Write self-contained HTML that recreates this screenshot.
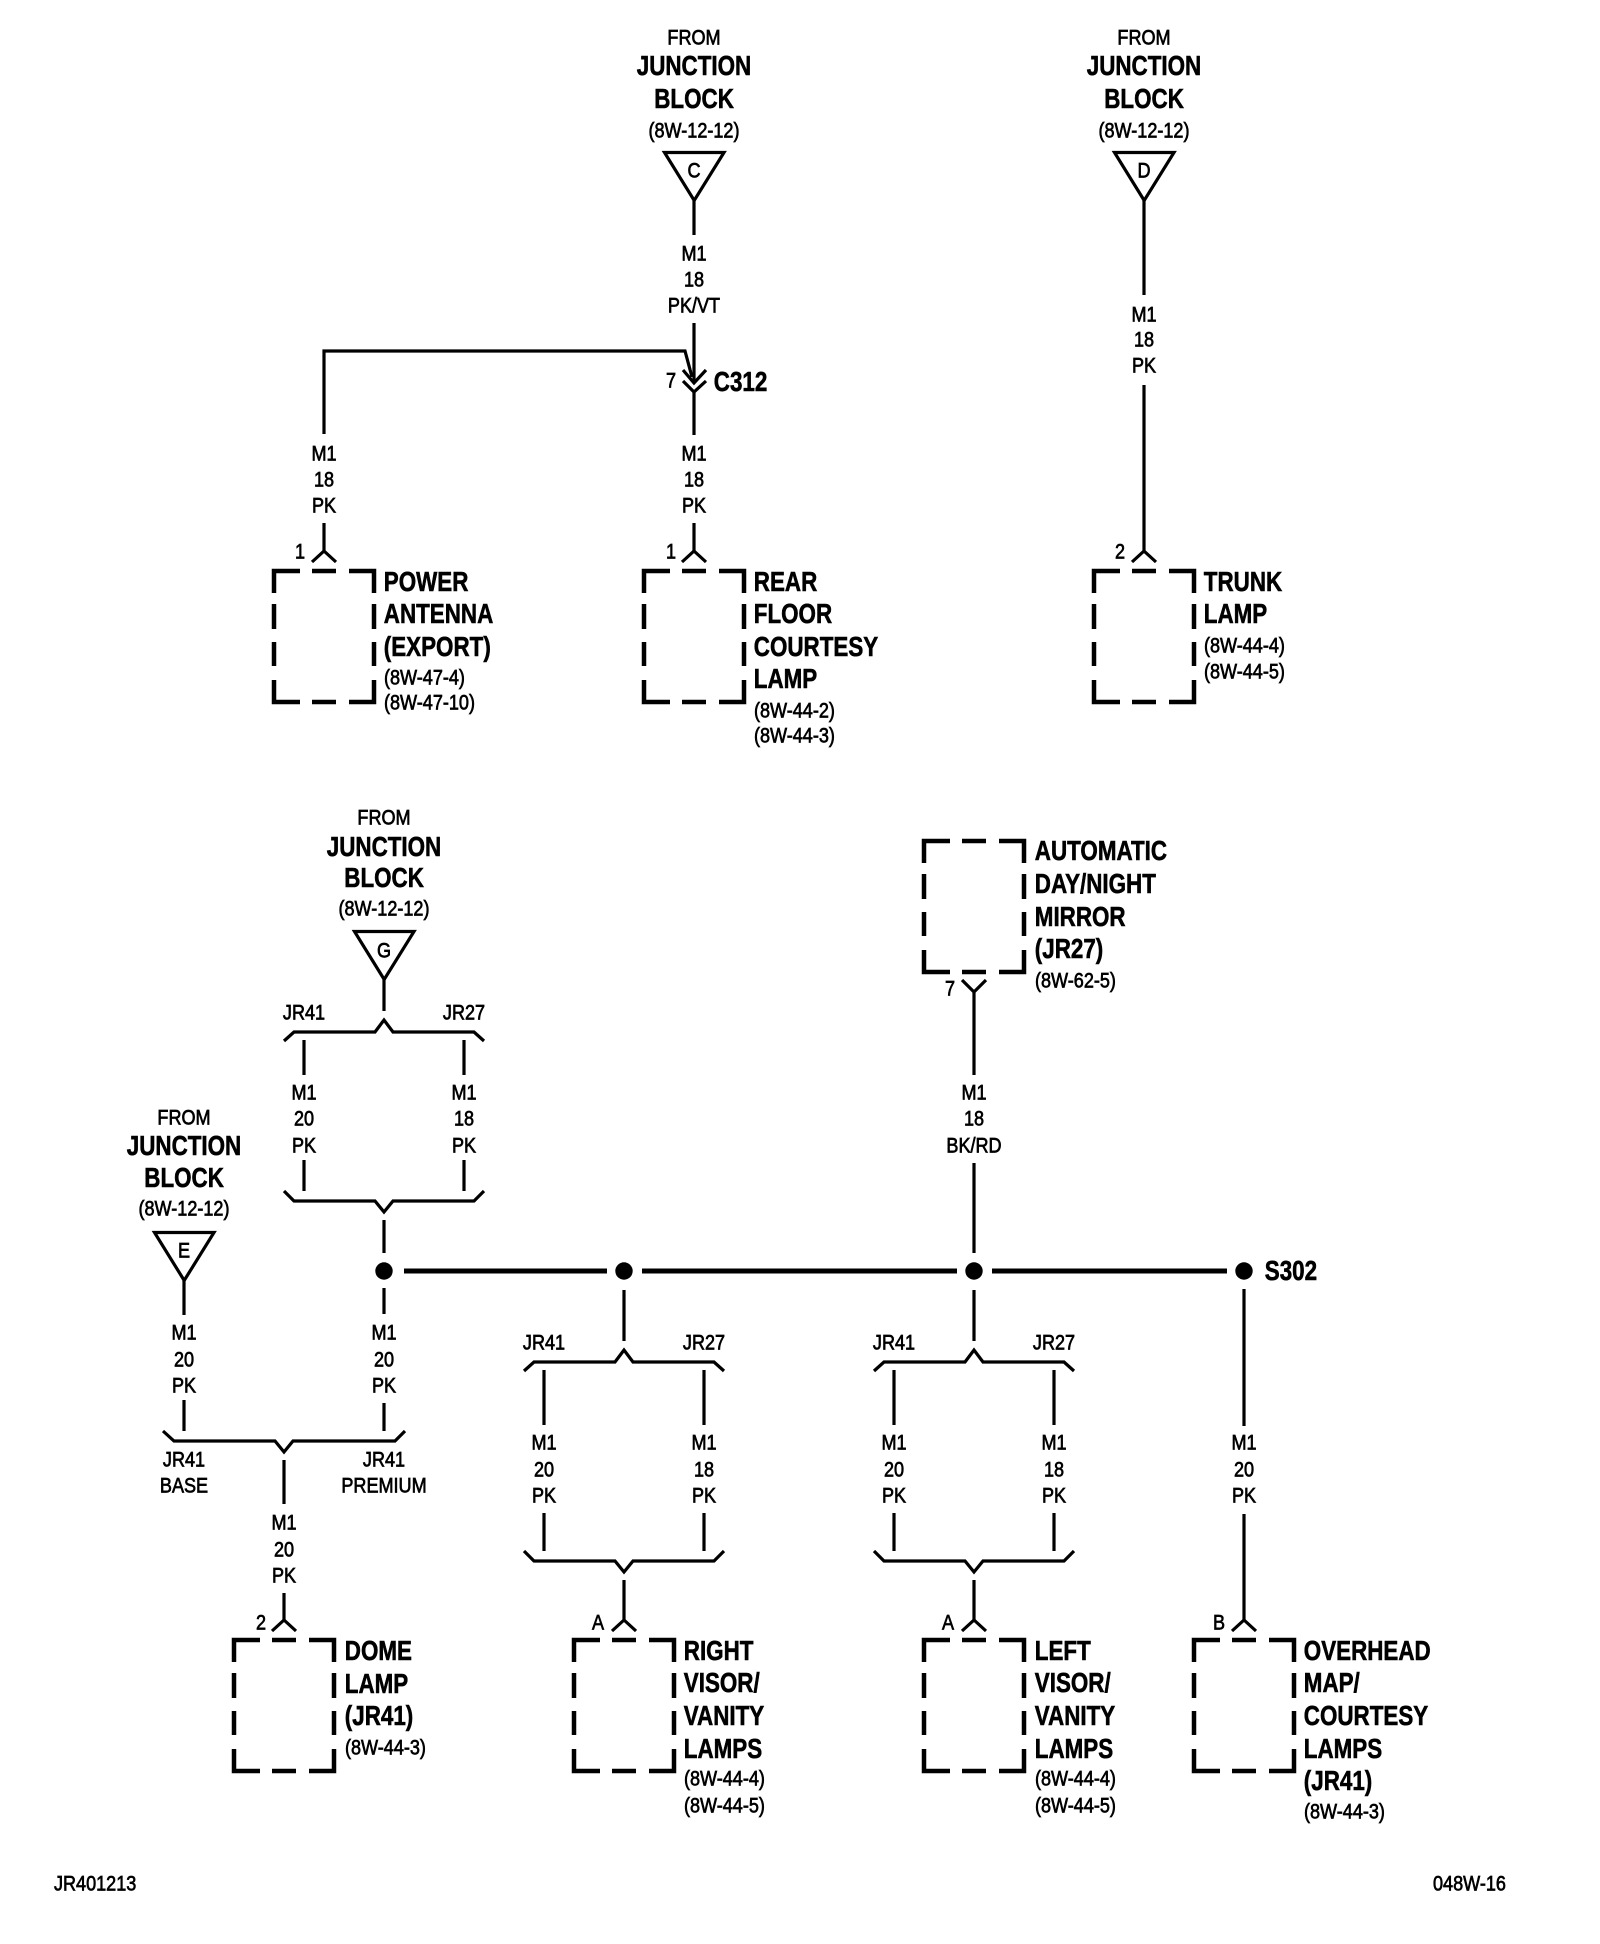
<!DOCTYPE html>
<html><head><meta charset="utf-8"><style>
html,body{margin:0;padding:0;background:#fff}
svg{display:block}
text{font-family:"Liberation Sans",Arial,sans-serif;fill:#000;stroke:#000;dominant-baseline:central;text-anchor:middle;transform-box:fill-box;transform-origin:center center;font-size:21px;stroke-width:.7;transform:translateY(1px) scaleX(.86)}
text.b{font-weight:bold;font-size:28px;stroke-width:.6;transform:scaleX(.8)}
text.l{text-anchor:start;transform-origin:left center;transform:translate(-1px,1px) scaleX(.86)}
text.b.l{transform:translateX(-1.2px) scaleX(.8)}
.w{fill:none;stroke:#000;stroke-width:3.2}
.bx{fill:none;stroke:#000;stroke-width:4.5}
.bus{fill:none;stroke:#000;stroke-width:5}
</style></head><body>
<svg width="1600" height="1944" viewBox="0 0 1600 1944" xmlns="http://www.w3.org/2000/svg">
<rect width="1600" height="1944" fill="#fff"/>
<defs>
<path id="box" class="bx" d="M-50 22V0H-24M-12 0H12M25 0H50V22M-50 33V58M50 33V58M-50 71V95M50 71V95M-50 109V131H-24M-12 131H12M25 131H50V109"/>
<path id="tri" class="w" d="M-29.5 1.5H30L0.2 49.5Z"/>
<path id="bt" class="w" d="M-100 21L-90 12H-9L0 0L9 12H90L100 21"/>
<path id="bb" class="w" d="M-100 0L-90 10H-9L0 21L9 10H90L100 0"/>
<path id="ar" class="w" d="M-12 11L0 0L12 11"/>
</defs>

<!-- C group -->
<text x="694" y="37">FROM</text>
<text class="b" x="694" y="66">JUNCTION</text>
<text class="b" x="694" y="99">BLOCK</text>
<text x="694" y="130">(8W-12-12)</text>
<use href="#tri" x="694" y="151"/>
<text x="694" y="170">C</text>
<path class="w" d="M694 198V235M694 323V383"/>
<text x="694" y="253">M1</text><text x="694" y="279">18</text><text x="694" y="305">PK/VT</text>
<path class="w" d="M324 434V351H685L692 377"/>
<path class="w" d="M683 370L694 383L706 370M683 381L694 392L706 381M694 392V435"/>
<text x="671" y="380">7</text>
<text class="b l" x="715" y="382">C312</text>

<!-- Power antenna -->
<text x="324" y="453">M1</text><text x="324" y="479">18</text><text x="324" y="505">PK</text>
<path class="w" d="M324 523V551"/><use href="#ar" x="324" y="551"/>
<text x="300" y="551">1</text>
<use href="#box" x="324" y="571"/>
<text class="b l" x="385" y="582">POWER</text>
<text class="b l" x="385" y="614">ANTENNA</text>
<text class="b l" x="385" y="647">(EXPORT)</text>
<text class="l" x="385" y="677">(8W-47-4)</text>
<text class="l" x="385" y="702">(8W-47-10)</text>

<!-- Rear floor -->
<text x="694" y="453">M1</text><text x="694" y="479">18</text><text x="694" y="505">PK</text>
<path class="w" d="M694 523V551"/><use href="#ar" x="694" y="551"/>
<text x="671" y="551">1</text>
<use href="#box" x="694" y="571"/>
<text class="b l" x="755" y="582">REAR</text>
<text class="b l" x="755" y="614">FLOOR</text>
<text class="b l" x="755" y="647">COURTESY</text>
<text class="b l" x="755" y="679">LAMP</text>
<text class="l" x="755" y="710">(8W-44-2)</text>
<text class="l" x="755" y="735">(8W-44-3)</text>

<!-- D group -->
<text x="1144" y="37">FROM</text>
<text class="b" x="1144" y="66">JUNCTION</text>
<text class="b" x="1144" y="99">BLOCK</text>
<text x="1144" y="130">(8W-12-12)</text>
<use href="#tri" x="1144" y="151"/>
<text x="1144" y="170">D</text>
<path class="w" d="M1144 198V295M1144 385V551"/>
<text x="1144" y="314">M1</text><text x="1144" y="339">18</text><text x="1144" y="365">PK</text>
<use href="#ar" x="1144" y="551"/>
<text x="1120" y="551">2</text>
<use href="#box" x="1144" y="571"/>
<text class="b l" x="1205" y="582">TRUNK</text>
<text class="b l" x="1205" y="614">LAMP</text>
<text class="l" x="1205" y="645">(8W-44-4)</text>
<text class="l" x="1205" y="671">(8W-44-5)</text>

<!-- G group -->
<text x="384" y="817">FROM</text>
<text class="b" x="384" y="847">JUNCTION</text>
<text class="b" x="384" y="878">BLOCK</text>
<text x="384" y="908">(8W-12-12)</text>
<use href="#tri" x="384" y="930"/>
<text x="384" y="950">G</text>
<path class="w" d="M384 977V1011"/>
<text x="304" y="1012">JR41</text><text x="464" y="1012">JR27</text>
<use href="#bt" x="384" y="1020"/>
<path class="w" d="M304 1040V1075M464 1040V1075M304 1160V1191M464 1160V1191"/>
<text x="304" y="1092">M1</text><text x="304" y="1118">20</text><text x="304" y="1145">PK</text>
<text x="464" y="1092">M1</text><text x="464" y="1118">18</text><text x="464" y="1145">PK</text>
<use href="#bb" x="384" y="1191"/>
<path class="w" d="M384 1220V1253M384 1288V1314"/>

<!-- bus -->
<path class="bus" d="M404 1271H607M642 1271H957M992 1271H1227"/>
<circle cx="384" cy="1271" r="8.7"/><circle cx="624" cy="1271" r="8.7"/><circle cx="974" cy="1271" r="8.7"/><circle cx="1244" cy="1271" r="8.7"/>
<text class="b l" x="1266" y="1271">S302</text>

<!-- E group -->
<text x="184" y="1117">FROM</text>
<text class="b" x="184" y="1146">JUNCTION</text>
<text class="b" x="184" y="1178">BLOCK</text>
<text x="184" y="1208">(8W-12-12)</text>
<use href="#tri" x="184" y="1231"/>
<text x="184" y="1250">E</text>
<path class="w" d="M184 1278V1315M184 1400V1431M384 1403V1431"/>
<text x="184" y="1332">M1</text><text x="184" y="1359">20</text><text x="184" y="1385">PK</text>
<text x="384" y="1332">M1</text><text x="384" y="1359">20</text><text x="384" y="1385">PK</text>
<path class="w" d="M163 1431L174 1441H275L284 1452L293 1441H395L405 1431"/>
<text x="184" y="1459">JR41</text><text x="184" y="1485">BASE</text>
<text x="384" y="1459">JR41</text><text x="384" y="1485">PREMIUM</text>
<path class="w" d="M284 1460V1504M284 1593V1620"/>
<text x="284" y="1522">M1</text><text x="284" y="1549">20</text><text x="284" y="1575">PK</text>
<use href="#ar" x="284" y="1620"/>
<text x="261" y="1622">2</text>
<use href="#box" x="284" y="1640"/>
<text class="b l" x="346" y="1651">DOME</text>
<text class="b l" x="346" y="1684">LAMP</text>
<text class="b l" x="346" y="1716">(JR41)</text>
<text class="l" x="346" y="1747">(8W-44-3)</text>

<!-- Right visor -->
<path class="w" d="M624 1290V1341"/>
<text x="544" y="1342">JR41</text><text x="704" y="1342">JR27</text>
<use href="#bt" x="624" y="1350"/>
<path class="w" d="M544 1370V1425M704 1370V1425M544 1513V1551M704 1513V1551"/>
<text x="544" y="1442">M1</text><text x="544" y="1469">20</text><text x="544" y="1495">PK</text>
<text x="704" y="1442">M1</text><text x="704" y="1469">18</text><text x="704" y="1495">PK</text>
<use href="#bb" x="624" y="1551"/>
<path class="w" d="M624 1580V1620"/><use href="#ar" x="624" y="1620"/>
<text x="598" y="1622">A</text>
<use href="#box" x="624" y="1640"/>
<text class="b l" x="685" y="1651">RIGHT</text>
<text class="b l" x="685" y="1683">VISOR/</text>
<text class="b l" x="685" y="1716">VANITY</text>
<text class="b l" x="685" y="1749">LAMPS</text>
<text class="l" x="685" y="1778">(8W-44-4)</text>
<text class="l" x="685" y="1805">(8W-44-5)</text>

<!-- Left visor -->
<path class="w" d="M974 1290V1341"/>
<text x="894" y="1342">JR41</text><text x="1054" y="1342">JR27</text>
<use href="#bt" x="974" y="1350"/>
<path class="w" d="M894 1370V1425M1054 1370V1425M894 1513V1551M1054 1513V1551"/>
<text x="894" y="1442">M1</text><text x="894" y="1469">20</text><text x="894" y="1495">PK</text>
<text x="1054" y="1442">M1</text><text x="1054" y="1469">18</text><text x="1054" y="1495">PK</text>
<use href="#bb" x="974" y="1551"/>
<path class="w" d="M974 1580V1620"/><use href="#ar" x="974" y="1620"/>
<text x="948" y="1622">A</text>
<use href="#box" x="974" y="1640"/>
<text class="b l" x="1036" y="1651">LEFT</text>
<text class="b l" x="1036" y="1683">VISOR/</text>
<text class="b l" x="1036" y="1716">VANITY</text>
<text class="b l" x="1036" y="1749">LAMPS</text>
<text class="l" x="1036" y="1778">(8W-44-4)</text>
<text class="l" x="1036" y="1805">(8W-44-5)</text>

<!-- Automatic mirror -->
<use href="#box" x="974" y="841"/>
<path class="w" d="M962 980L974 992L986 980M974 992V1075M974 1163V1253"/>
<text x="950" y="988">7</text>
<text class="b l" x="1036" y="851">AUTOMATIC</text>
<text class="b l" x="1036" y="884">DAY/NIGHT</text>
<text class="b l" x="1036" y="917">MIRROR</text>
<text class="b l" x="1036" y="949">(JR27)</text>
<text class="l" x="1036" y="980">(8W-62-5)</text>
<text x="974" y="1092">M1</text><text x="974" y="1118">18</text><text x="974" y="1145">BK/RD</text>

<!-- Overhead -->
<path class="w" d="M1244 1289V1426M1244 1514V1620"/>
<text x="1244" y="1442">M1</text><text x="1244" y="1469">20</text><text x="1244" y="1495">PK</text>
<use href="#ar" x="1244" y="1620"/>
<text x="1219" y="1622">B</text>
<use href="#box" x="1244" y="1640"/>
<text class="b l" x="1305" y="1651">OVERHEAD</text>
<text class="b l" x="1305" y="1683">MAP/</text>
<text class="b l" x="1305" y="1716">COURTESY</text>
<text class="b l" x="1305" y="1749">LAMPS</text>
<text class="b l" x="1305" y="1781">(JR41)</text>
<text class="l" x="1305" y="1811">(8W-44-3)</text>

<!-- Footer -->
<text class="l" x="55" y="1883">JR401213</text>
<text class="l" x="1434" y="1883">048W-16</text>
</svg>
</body></html>
